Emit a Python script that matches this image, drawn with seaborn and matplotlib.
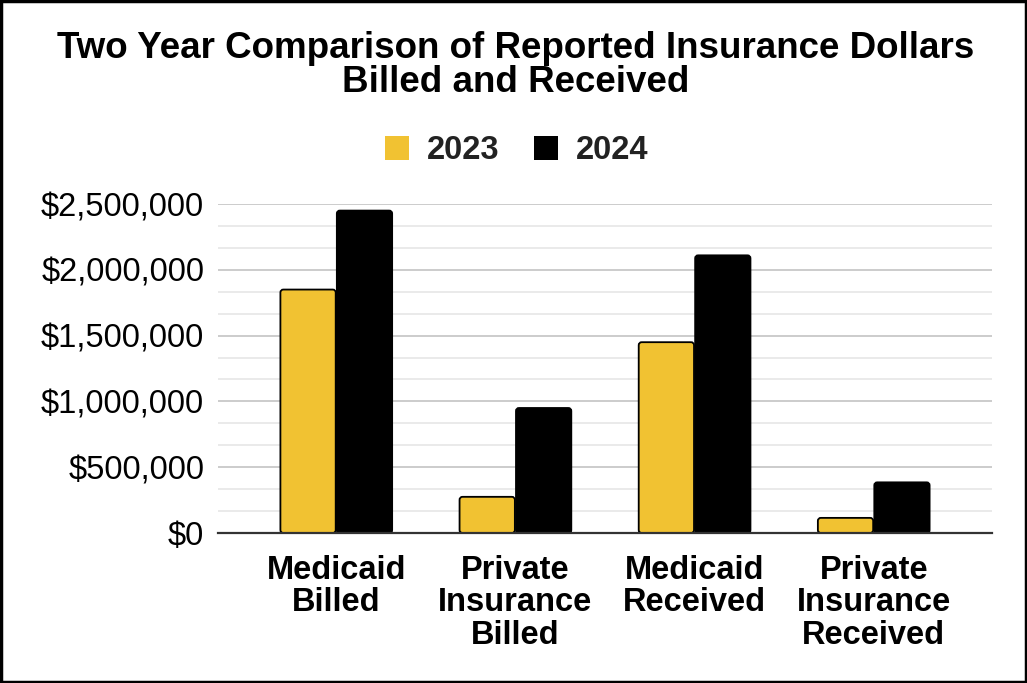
import matplotlib
matplotlib.use("Agg")
import matplotlib.pyplot as plt
import seaborn as sns
import pandas as pd
import numpy as np
from matplotlib.ticker import FuncFormatter, MultipleLocator
from matplotlib.patches import Rectangle, FancyBboxPatch

categories = ["Medicaid\nBilled", "Private\nInsurance\nBilled", "Medicaid\nReceived", "Private\nInsurance\nReceived"]
years = ["2023", "2024"]
values_2023 = [1850000, 275000, 1450000, 115000]
values_2024 = [2450000, 950000, 2110000, 385000]
yticks = [0, 500000, 1000000, 1500000, 2000000, 2500000]
colors = {"2023": "#F1C232", "2024": "#000000"}

df = pd.DataFrame({
    "category": categories * 2,
    "year": ["2023"] * 4 + ["2024"] * 4,
    "value": values_2023 + values_2024,
})

sns.set_theme(style="white")
plt.rcParams["font.family"] = ["Liberation Sans", "DejaVu Sans"]

fig = plt.figure(figsize=(10.27, 6.83), dpi=100)
ax = fig.add_axes([0.2123, 0.2196, 0.7536, 0.4817])

sns.barplot(data=df, x="category", y="value", hue="year", order=categories,
            hue_order=years, palette=colors, width=0.63, gap=0.02, saturation=1,
            edgecolor="black", linewidth=1.3, ax=ax, legend=False)

ax.set_ylim(0, 2500000)
ax.set_xlim(-0.66, 3.66)

# rounded bar corners
xr = 4.32 / 774.0
yr = 2500000 / 329.0
for p in list(ax.patches):
    x0, y0 = p.get_x(), p.get_y()
    w, h = p.get_width(), p.get_height()
    fb = FancyBboxPatch((x0, y0), w, h,
                        boxstyle=f"round,pad=0,rounding_size={3 * xr}",
                        mutation_aspect=yr / xr,
                        facecolor=p.get_facecolor(), edgecolor="black",
                        linewidth=1.3, zorder=p.get_zorder())
    p.remove()
    ax.add_patch(fb)

ax.set_yticks(yticks)
ax.yaxis.set_minor_locator(MultipleLocator(500000 / 3))
ax.yaxis.set_major_formatter(FuncFormatter(lambda v, p: f"${int(v):,}"))
ax.grid(axis="y", which="major", color="#cccccc", linewidth=1.4)
ax.grid(axis="y", which="minor", color="#e6e6e6", linewidth=1.2)
ax.set_axisbelow(True)
for s in ["top", "right", "left"]:
    ax.spines[s].set_visible(False)
ax.spines["bottom"].set_color("#333333")
ax.spines["bottom"].set_linewidth(1.6)
ax.spines["bottom"].set_zorder(5)
ax.tick_params(axis="y", which="both", length=0, labelsize=23.5, pad=10, colors="black")
ax.tick_params(axis="x", length=0, labelsize=23.5, pad=16, colors="black")
for lbl in ax.get_xticklabels():
    lbl.set_fontweight("bold")
    lbl.set_linespacing(1.05)
ax.set_xlabel("")
ax.set_ylabel("")

fig.text(0.502, 0.955, "Two Year Comparison of Reported Insurance Dollars\nBilled and Received",
         ha="center", va="top", fontsize=26.5, fontweight="bold", linespacing=0.97,
         color="black")

# legend
handles = [Rectangle((0, 0), 1, 1, facecolor=colors[y], edgecolor="none") for y in years]
leg = fig.legend(handles, years, loc="center", bbox_to_anchor=(0.503, 0.779), ncol=2,
                 frameon=False, prop={"size": 23.5, "weight": "bold"}, handlelength=0.75,
                 handleheight=0.75, handletextpad=0.55, columnspacing=1.05)
for t in leg.get_texts():
    t.set_color("#222222")

fig.patches.append(Rectangle((0.001, 0.0015), 0.998, 0.997, transform=fig.transFigure,
                             fill=False, edgecolor="black", linewidth=2.5))

fig.savefig("out.png", dpi=100, facecolor="white")
